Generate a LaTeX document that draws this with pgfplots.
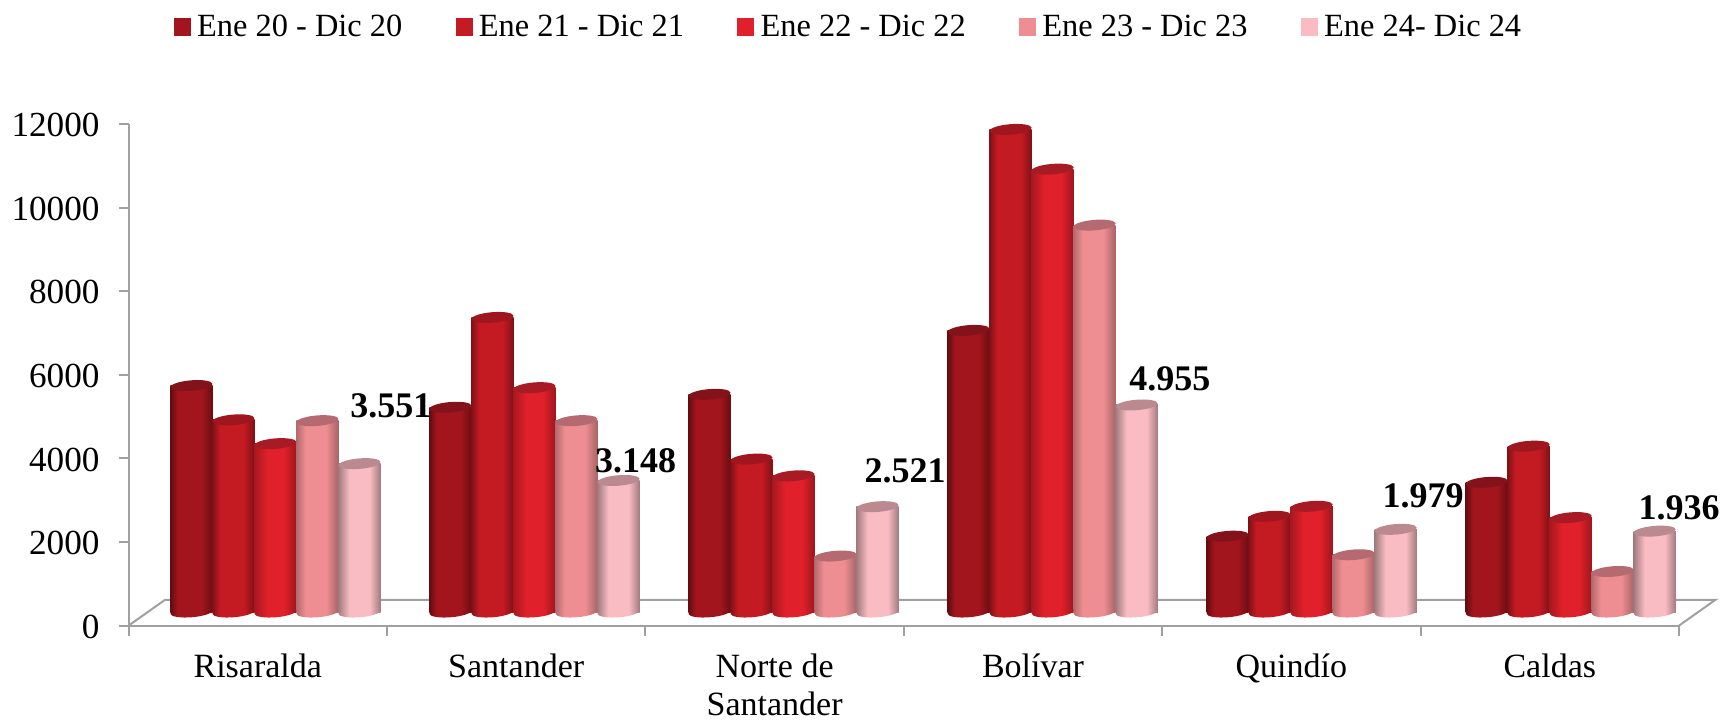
\documentclass[border=0pt]{standalone}
\usepackage{pgfplots}
\usepackage{pgfplotstable}
\usepackage{fontspec}
\pgfplotsset{compat=1.18}
\setmainfont{Liberation Serif}
\definecolor{axg}{HTML}{A0A0A0}
\definecolor{t1}{HTML}{84121A}\definecolor{t2}{HTML}{A0161E}\definecolor{t3}{HTML}{A81A24}\definecolor{t4}{HTML}{B46A70}\definecolor{t5}{HTML}{BA8A90}
\definecolor{l1}{HTML}{A3151C}\definecolor{l2}{HTML}{C41A22}\definecolor{l3}{HTML}{E0202A}\definecolor{l4}{HTML}{EE8E92}\definecolor{l5}{HTML}{F8BCC2}
\pgfdeclarehorizontalshading{cyl1}{100bp}{color(0bp)=(black!40!l1);color(25bp)=(black!40!l1);color(34bp)=(l1);color(62bp)=(l1);color(75bp)=(black!35!l1);color(100bp)=(black!35!l1)}
\pgfdeclarehorizontalshading{cyl2}{100bp}{color(0bp)=(black!35!l2);color(25bp)=(black!35!l2);color(34bp)=(l2);color(62bp)=(l2);color(75bp)=(black!35!l2);color(100bp)=(black!35!l2)}
\pgfdeclarehorizontalshading{cyl3}{100bp}{color(0bp)=(black!25!l3);color(25bp)=(black!25!l3);color(40bp)=(l3);color(60bp)=(l3);color(75bp)=(black!30!l3);color(100bp)=(black!30!l3)}
\pgfdeclarehorizontalshading{cyl4}{100bp}{color(0bp)=(black!25!l4);color(25bp)=(black!25!l4);color(36bp)=(l4);color(60bp)=(l4);color(75bp)=(black!30!l4);color(100bp)=(black!30!l4)}
\pgfdeclarehorizontalshading{cyl5}{100bp}{color(0bp)=(black!35!l5);color(25bp)=(black!35!l5);color(38bp)=(l5);color(62bp)=(l5);color(75bp)=(black!35!l5);color(100bp)=(black!35!l5)}
\pgfdeclareplotmark{ctop}{\pgfpathellipse{\pgfpointorigin}{\pgfqpoint{10.5pt}{0.9pt}}{\pgfqpoint{-0.4pt}{2.6pt}}\pgfusepathqfill}
\pgfdeclareplotmark{cb1}{\pgfpathellipse{\pgfpointorigin}{\pgfqpoint{10.5pt}{0.9pt}}{\pgfqpoint{-0.4pt}{2.6pt}}\pgfshadepath{cyl1}{0}\pgfusepath{discard}}
\pgfdeclareplotmark{cb2}{\pgfpathellipse{\pgfpointorigin}{\pgfqpoint{10.5pt}{0.9pt}}{\pgfqpoint{-0.4pt}{2.6pt}}\pgfshadepath{cyl2}{0}\pgfusepath{discard}}
\pgfdeclareplotmark{cb3}{\pgfpathellipse{\pgfpointorigin}{\pgfqpoint{10.5pt}{0.9pt}}{\pgfqpoint{-0.4pt}{2.6pt}}\pgfshadepath{cyl3}{0}\pgfusepath{discard}}
\pgfdeclareplotmark{cb4}{\pgfpathellipse{\pgfpointorigin}{\pgfqpoint{10.5pt}{0.9pt}}{\pgfqpoint{-0.4pt}{2.6pt}}\pgfshadepath{cyl4}{0}\pgfusepath{discard}}
\pgfdeclareplotmark{cb5}{\pgfpathellipse{\pgfpointorigin}{\pgfqpoint{10.5pt}{0.9pt}}{\pgfqpoint{-0.4pt}{2.6pt}}\pgfshadepath{cyl5}{0}\pgfusepath{discard}}
% departamento (0..5) and one column per year
\pgfplotstableread{
cat a b c d e
0 5420 4600 4030 4580 3551
1 4900 7050 5370 4580 3148
2 5210 3660 3260 1340 2521
3 6740 11550 10600 9260 4955
4 1815 2290 2530 1370 1979
5 3105 3970 2260 970 1936
}\datatable
% one bar of a series: column, offset, shading number, row, next row
\newcommand{\onebar}[5]{%
  \addplot[ybar,bar width=21.1pt,bar shift=0pt,draw=none,forget plot,shade,shading=cyl#3,
    skip coords between index={0}{#4},skip coords between index={#5}{6}]
    table[x expr=\thisrow{cat}+#2,y=#1]{\datatable};
}
\newcommand{\series}[4]{% column, offset, mark, top colour; shading is cyl<mark>
  \addplot[only marks,forget plot,mark=cb#3] table[x expr=\thisrow{cat}+#2,y expr=0]{\datatable};
  \onebar{#1}{#2}{#3}{0}{1}
  \onebar{#1}{#2}{#3}{1}{2}
  \onebar{#1}{#2}{#3}{2}{3}
  \onebar{#1}{#2}{#3}{3}{4}
  \onebar{#1}{#2}{#3}{4}{5}
  \onebar{#1}{#2}{#3}{5}{6}
  \addplot[only marks,forget plot,mark=ctop,mark options={fill=#4,draw=none}] table[x expr=\thisrow{cat}+#2,y=#1]{\datatable};
}
\begin{document}
\begin{tikzpicture}
\path[use as bounding box] (0pt,0pt) rectangle (862pt,359.5pt);
\begin{axis}[
  at={(64.3pt,46.7pt)},anchor=south west,
  scale only axis,width=775.2pt,height=250.7pt,
  xmin=0,xmax=6,ymin=0,ymax=12000,clip=false,
  axis lines=left,axis line style={draw=axg,line width=1pt,-},
  tick style={draw=axg,line width=1pt},
  ytick={0,2000,...,12000},
  ymajorticks=true,
  xtick={0.5,1.5,2.5,3.5,4.5,5.5},
  xticklabels={Risaralda,Santander,{Norte de\\Santander},Bolívar,Quindío,Caldas},
  minor xtick={0,1,...,6},
  major x tick style={draw=none},
  x tick label style={align=center,font=\fontsize{17}{19}\selectfont,yshift=-5.5pt},
  y tick label style={font=\fontsize{17.6}{20}\selectfont,xshift=-6pt,yshift=-0.5pt},
  tick align=outside,
  major tick length=5pt,minor tick length=5pt,
  scaled y ticks=false,
  /pgf/number format/1000 sep={},
  /pgf/number format/assume math mode=true,
]
\addplot[draw=axg,line width=1pt] coordinates {(0,0)(0.14,613)(6.14,613)(6,0)};
\end{axis}
\begin{axis}[
  at={(64.3pt,46.7pt)},anchor=south west,
  scale only axis,width=775.2pt,height=250.7pt,
  xmin=0,xmax=5.985,ymin=-325,ymax=11675,clip=false,
  hide axis,
  legend style={at={(rel axis cs:0.029,1.193)},anchor=west,draw=none,fill=none,inner sep=0pt,
    legend columns=5,font=\fontsize{16.2}{20}\selectfont,
    /tikz/every even column/.append style={column sep=24.7pt},
    /tikz/every odd column/.append style={column sep=1.1pt}},
  legend cell align=left,
  sq/.style={legend image code/.code={\fill[##1,draw=none] (0pt,-4.5pt) rectangle (8.5pt,4.5pt);}},
]
\series{a}{0.2425}{1}{t1}
\series{b}{0.4047}{2}{t2}
\series{c}{0.5669}{3}{t3}
\series{d}{0.7291}{4}{t4}
\series{e}{0.8913}{5}{t5}
\addlegendimage{sq,fill=l1}\addlegendentry{Ene 20 - Dic 20}
\addlegendimage{sq,fill=l2}\addlegendentry{Ene 21 - Dic 21}
\addlegendimage{sq,fill=l3}\addlegendentry{Ene 22 - Dic 22}
\addlegendimage{sq,fill=l4}\addlegendentry{Ene 23 - Dic 23}
\addlegendimage{sq,fill=l5}\addlegendentry{Ene 24- Dic 24}
\begin{scope}[every node/.style={font=\fontsize{18}{20}\selectfont\bfseries,inner sep=0pt}]
\node at (axis cs:1.0125,4938) {3.551};
\node at (axis cs:1.957,3622) {3.148};
\node at (axis cs:2.998,3386) {2.521};
\node at (axis cs:4.02,5570) {4.955};
\node at (axis cs:4.997,2780) {1.979};
\node at (axis cs:5.985,2491) {1.936};
\end{scope}
\end{axis}
\end{tikzpicture}
\end{document}
